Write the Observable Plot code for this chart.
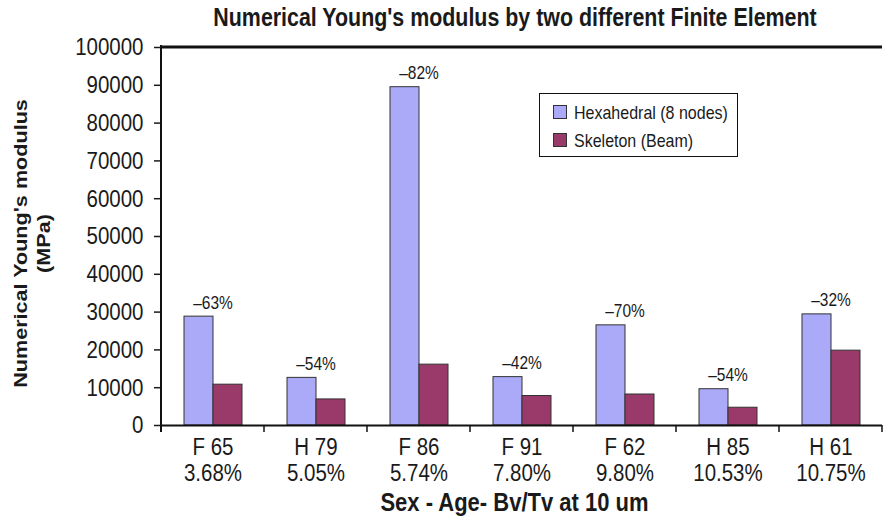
<!DOCTYPE html>
<html><head><meta charset="utf-8">
<script src="https://cdn.jsdelivr.net/npm/d3@7"></script>
<script src="https://cdn.jsdelivr.net/npm/@observablehq/plot@0.6"></script>
<style>
html,body{margin:0;padding:0;background:#fff;}
#wrap{position:relative;width:885px;height:518px;overflow:hidden;font-family:"Liberation Sans",Arial,sans-serif;color:#1a1a1a;}
#title{position:absolute;top:6px;left:0;width:1030px;text-align:center;font-weight:bold;font-size:21.4px;line-height:24px;white-space:nowrap;transform:scaleY(1.2);}
#xtitle{position:absolute;top:491px;left:0;width:1029px;text-align:center;font-weight:bold;font-size:22px;line-height:24px;white-space:nowrap;transform:scaleY(1.2);}
#chart{position:absolute;top:36px;left:0;}
#legend{position:absolute;left:539px;top:93px;width:199px;height:64px;box-sizing:border-box;border:1.5px solid #111;background:#fff;}
.li{position:absolute;left:13px;height:20px;font-size:16px;line-height:20px;white-space:nowrap;}
.sw{display:inline-block;width:12px;height:12px;border:1px solid #333;vertical-align:-1px;margin-right:7px;}
.lt{display:inline-block;transform:scaleY(1.2);}
</style></head>
<body><div id="wrap">
<div id="title">Numerical Young's modulus by two different Finite Element</div>
<div id="chart"></div>
<div id="xtitle">Sex - Age- Bv/Tv at 10 um</div>
<div id="legend"></div>
</div>
<script>
const sexAge = ["F 65", "H 79", "F 86", "F 91", "F 62", "H 85", "H 61"];
const bvtv = ["3.68%", "5.05%", "5.74%", "7.80%", "9.80%", "10.53%", "10.75%"];
const series = ["Hexahedral (8 nodes)", "Skeleton (Beam)"];
const hexValues = [28800, 12600, 89500, 12800, 26500, 9600, 29400];
const skelValues = [10800, 6900, 16100, 7800, 8200, 4700, 19800];
const diffLabels = ["–63%", "–54%", "–82%", "–42%", "–70%", "–54%", "–32%"];
const yTicks = [0, 10000, 20000, 30000, 40000, 50000, 60000, 70000, 80000, 90000, 100000];
const colors = ["#aaaaf9", "#993a6b"];
const yTitle = "Numerical Young's modulus\n(MPa)";

const rows = sexAge.flatMap((c, i) => [
  {cat: c, series: series[0], value: hexValues[i]},
  {cat: c, series: series[1], value: skelValues[i]}
]);
const labelRows = sexAge.map((c, i) => ({cat: c, value: hexValues[i], text: diffLabels[i]}));

const plot = Plot.plot({
  width: 885,
  height: 440,
  marginLeft: 158,
  marginRight: 0,
  marginTop: 11,
  marginBottom: 51,
  style: {fontFamily: '"Liberation Sans", Arial, sans-serif', color: "#1a1a1a", background: "#fff", overflow: "visible"},
  fx: {domain: sexAge, paddingInner: 0, paddingOuter: 0, label: null},
  x: {domain: series, paddingInner: 0, paddingOuter: 0.766, axis: null},
  y: {domain: [0, 100000], axis: null},
  color: {domain: series, range: colors},
  marks: [
    Plot.barY(rows, {fx: "cat", x: "series", y: "value", fill: "series", stroke: "#333", strokeWidth: 1}),
    Plot.ruleY([0], {stroke: "#111", strokeWidth: 2}),
    Plot.ruleY([100000], {stroke: "#111", strokeWidth: 3, dy: -0.5}),
    Plot.text(labelRows, {fx: "cat", y: "value", text: "text", dy: -14, fontSize: 15.5, fill: "#1a1a1a"}),
    Plot.axisY({ticks: yTicks, tickSize: 7, tickPadding: 11, fontSize: 20.5, strokeWidth: 1.5, tickFormat: d => String(d), label: null}),
    Plot.axisFx({anchor: "bottom", tickSize: 0, tickPadding: 11, fontSize: 20.5, lineHeight: 1.057, label: null,
      tickFormat: c => c + "\n" + bvtv[sexAge.indexOf(c)]}),
    Plot.text([yTitle], {fx: () => sexAge[0], frameAnchor: "left", text: d => d, textAnchor: "middle", rotate: -90, dx: -130.5, dy: 7, fontWeight: "bold", fontSize: 18, lineHeight: 1.28, fill: "#1a1a1a"})
  ]
});
document.getElementById("chart").appendChild(plot);

// the reference's lettering is vertically stretched: scale each text about its own anchor
d3.select(plot).selectAll("text").each(function () {
  const t = this.getAttribute("transform");
  if (t) {
    this.setAttribute("transform", t + (/rotate/.test(t) ? " scale(1.2,1)" : " scale(1,1.2)"));
  } else {
    const x = +this.getAttribute("x") || 0, y = +this.getAttribute("y") || 0;
    this.setAttribute("transform", `translate(${x},${y}) scale(1,1.2) translate(${-x},${-y})`);
  }
});

// axis line and category boundary ticks, positioned through Plot's scales
try {
  const fx = plot.scale("fx"), y = plot.scale("y");
  const y0 = y.apply(0), y1 = y.apply(100000);
  const left = fx.apply(fx.domain[0]);
  const edges = fx.domain.map(d => fx.apply(d)).concat([fx.apply(fx.domain[fx.domain.length - 1]) + fx.bandwidth]);
  const g = d3.select(plot).append("g").attr("stroke", "#111");
  g.append("line").attr("x1", left).attr("x2", left).attr("y1", y1 - 2).attr("y2", y0 + 7).attr("stroke-width", 2);
  g.selectAll(".bt").data(edges).join("line").attr("x1", d => d).attr("x2", d => d).attr("y1", y0).attr("y2", y0 + 7).attr("stroke-width", 1.5);
} catch (e) { console.error(e); }

// legend
const legend = document.getElementById("legend");
series.forEach((s, i) => {
  const d = document.createElement("div");
  d.className = "li";
  d.style.top = (9 + i * 28) + "px";
  d.innerHTML = `<span class="sw" style="background:${colors[i]}"></span><span class="lt">${s}</span>`;
  legend.appendChild(d);
});
</script>
</body></html>
